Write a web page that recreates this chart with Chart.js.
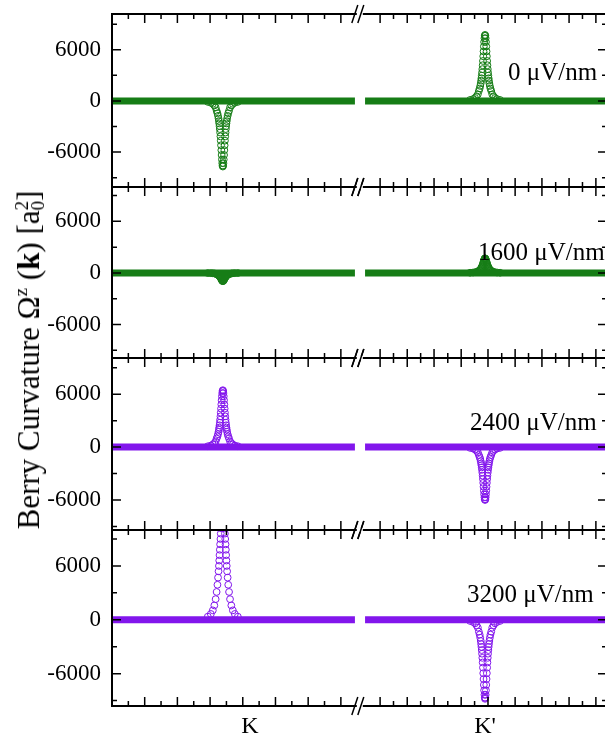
<!DOCTYPE html>
<html>
<head>
<meta charset="utf-8">
<script src="https://cdn.jsdelivr.net/npm/chart.js@4.4.1/dist/chart.umd.min.js"></script>
<style>
  html, body { margin: 0; padding: 0; background: #fff; overflow: hidden; }
  #wrap { position: relative; width: 605px; height: 745px; overflow: hidden; }
  canvas { position: absolute; left: 0; }
  #ytitle {
    position: absolute; left: 29px; top: 360px;
    transform: translate(-50%, -50%) rotate(-90deg);
    font-family: 'Liberation Serif', serif; font-size: 31px; white-space: nowrap; color: #000;
  }
  #ytitle sup { font-size: 19px; vertical-align: 12px; line-height: 0; }
  .stk { display: inline-block; vertical-align: -5px; line-height: 16px; font-size: 19px; text-align: left; }
  .stk span { display: block; }
</style>
</head>
<body>
<div id="wrap">
  <canvas id="c1"></canvas>
  <canvas id="c2"></canvas>
  <canvas id="c3"></canvas>
  <canvas id="c4"></canvas>
  <div id="ytitle">Berry Curvature &Omega;<sup>z</sup> (<b>k</b>) [a<span class="stk"><span>2</span><span>0</span></span>]</div>
</div>
<script>
// x axis: path coordinate, broken between the two valleys
const xMin = 0, xMax = 15.14;
const xBreak = 7.61;
const leftSegment = [0, 7.43];
const rightSegment = [7.74, 15.14];
const xMajorTicks = [0, 1, 2, 3, 4, 5, 6, 7, 8.2, 9.03, 9.85, 10.68, 11.5, 12.33, 13.15, 13.98, 14.8];
const xMinorTicks = [0.5, 1.5, 2.5, 3.5, 4.5, 5.5, 6.5, 8.61, 9.44, 10.27, 11.09, 11.92, 12.74, 13.57, 14.39];
const xLabels = ['K', "K'"];
const xLabelPos = [4.22, 11.41];
const kCenter = 3.39;
const kPrimeCenter = 11.41;

const yMajorTicks = [-6000, 0, 6000];
const yMinorTicks = [-9000, -3000, 3000, 9000];

const fieldLabels = ['0 \u03bcV/nm', '1600 \u03bcV/nm', '2400 \u03bcV/nm', '3200 \u03bcV/nm'];

// sampled k offsets around each valley (dense near the centre)
const peakOffsets = [-0.459,-0.367,-0.306,-0.26,-0.22,-0.19,-0.165,-0.147,-0.131,-0.119,-0.11,-0.101,-0.092,-0.083,-0.073,-0.064,-0.055,-0.046,-0.037,-0.028,-0.018,-0.009,0,
  0.009,0.018,0.028,0.037,0.046,0.055,0.064,0.073,0.083,0.092,0.101,0.11,0.119,0.131,0.147,0.165,0.19,0.22,0.26,0.306,0.367,0.459];

// Berry curvature near K and K' for each field
const e0K = [-115,-215,-345,-540,-770,-1155,-1450,-1750,-2065,-2370,-2640,-2950,-3300,-3705,-4160,-4660,-5205,-5775,-6345,-6875,-7305,-7600,-7700,
  -7600,-7305,-6875,-6345,-5775,-5205,-4660,-4160,-3705,-3300,-2950,-2640,-2370,-2065,-1750,-1450,-1155,-770,-540,-345,-215,-115];
const e0Kp = [115,215,350,545,775,1165,1455,1760,2075,2385,2660,2970,3325,3730,4185,4690,5240,5810,6385,6920,7355,7650,7750,
  7650,7355,6920,6385,5810,5240,4690,4185,3730,3325,2970,2660,2385,2075,1760,1455,1165,775,545,350,215,115];
const e1600K = [-15,-25,-45,-65,-95,-145,-180,-215,-255,-295,-325,-365,-410,-455,-515,-575,-640,-715,-785,-850,-900,-940,-950,
  -940,-900,-850,-785,-715,-640,-575,-515,-455,-410,-365,-325,-295,-255,-215,-180,-145,-95,-65,-45,-25,-15];
const e1600Kp = [25,50,75,120,170,255,320,385,455,525,585,650,730,820,920,1030,1150,1275,1400,1520,1615,1680,1700,
  1680,1615,1520,1400,1275,1150,1030,920,820,730,650,585,525,455,385,320,255,170,120,75,50,25];
const e2400K = [95,180,290,450,645,970,1215,1465,1730,1985,2210,2470,2765,3100,3485,3900,4360,4840,5315,5760,6120,6365,6450,
  6365,6120,5760,5315,4840,4360,3900,3485,3100,2765,2470,2210,1985,1730,1465,1215,970,645,450,290,180,95];
const e2400Kp = [-90,-170,-270,-420,-600,-900,-1130,-1360,-1610,-1850,-2060,-2300,-2575,-2885,-3240,-3630,-4055,-4500,-4945,-5360,-5695,-5920,-6000,
  -5920,-5695,-5360,-4945,-4500,-4055,-3630,-3240,-2885,-2575,-2300,-2060,-1850,-1610,-1360,-1130,-900,-600,-420,-270,-170,-90];
// K peak at 3200 uV/nm runs off the top of its panel
const e3200K = [350,650,1050,1600,2300,3100,3900,4700,5400,6000,6600,7200,7800,8400,9000,9600,10200,10800,11400,11900,12300,12500,12600,
  12500,12300,11900,11400,10800,10200,9600,9000,8400,7800,7200,6600,6000,5400,4700,3900,3100,2300,1600,1050,650,350];
const e3200Kp = [-130,-245,-395,-615,-880,-1320,-1655,-2000,-2360,-2710,-3020,-3370,-3775,-4235,-4750,-5325,-5950,-6600,-7250,-7860,-8350,-8685,-8800,
  -8685,-8350,-7860,-7250,-6600,-5950,-5325,-4750,-4235,-3775,-3370,-3020,-2710,-2360,-2000,-1655,-1320,-880,-615,-395,-245,-130];

const GREEN = 'rgb(22,125,22)';
const PURPLE = 'rgb(130,22,236)';
const SERIF = "'Liberation Serif', serif";

const panels = [
  { id: 'c1', top: 14,  bottom: 187, ymin: -10100, ymax: 10200, K: e0K,    Kp: e0Kp,    color: GREEN,  label: 0, lx: 508, ly: 59 },
  { id: 'c2', top: 187, bottom: 358, ymin: -9900,  ymax: 10000, K: e1600K, Kp: e1600Kp, color: GREEN,  label: 1, lx: 478, ly: 66 },
  { id: 'c3', top: 358, bottom: 530, ymin: -9400,  ymax: 10100, K: e2400K, Kp: e2400Kp, color: PURPLE, label: 2, lx: 470, ly: 65 },
  { id: 'c4', top: 530, bottom: 706, ymin: -9600,  ymax: 10000, K: e3200K, Kp: e3200Kp, color: PURPLE, label: 3, lx: 467, ly: 65 }
];

const CANVAS_W = 620, RIGHT = 607, LEFT = 112, PAD = 10, XAXIS_H = 39;

function frame(p) {
  return {
    id: 'frame',
    afterDatasetsDraw(chart) {
      const { ctx, chartArea: a, scales: { x, y } } = chart;
      ctx.save();
      ctx.strokeStyle = '#000';
      ctx.lineWidth = 1.5;
      ctx.beginPath();
      const seg = (x0, y0, x1, y1) => { ctx.moveTo(x0, y0); ctx.lineTo(x1, y1); };
      xMajorTicks.forEach(v => { const px = x.getPixelForValue(v); seg(px, a.top, px, a.top + 9); seg(px, a.bottom, px, a.bottom - 9); });
      xMinorTicks.forEach(v => { const px = x.getPixelForValue(v); seg(px, a.top, px, a.top + 5); seg(px, a.bottom, px, a.bottom - 5); });
      yMajorTicks.forEach(v => { const py = y.getPixelForValue(v); seg(a.left, py, a.left + 9, py); seg(a.right, py, a.right - 9, py); });
      yMinorTicks.forEach(v => { const py = y.getPixelForValue(v); seg(a.left, py, a.left + 5, py); seg(a.right, py, a.right - 5, py); });
      ctx.stroke();
      ctx.lineWidth = 2;
      ctx.strokeRect(a.left, a.top, a.right - a.left, a.bottom - a.top);
      // axis break marks
      const bx = x.getPixelForValue(xBreak);
      [a.top, a.bottom].forEach(by => {
        ctx.fillStyle = '#fff';
        ctx.fillRect(bx - 4, by - 2, 6, 4);
        ctx.lineWidth = 1.5;
        ctx.beginPath();
        seg(bx - 9, by + 9, bx - 3, by - 9);
        seg(bx - 3, by + 9, bx + 3, by - 9);
        ctx.stroke();
      });
      // field label
      ctx.fillStyle = '#000';
      ctx.font = '25px ' + SERIF;
      ctx.textBaseline = 'middle';
      ctx.textAlign = 'left';
      ctx.fillText(fieldLabels[p.label], p.lx, a.top + p.ly);
      ctx.restore();
    }
  };
}

const noPad = s => { s.paddingTop = 0; s.paddingBottom = 0; s.paddingLeft = 0; s.paddingRight = 0; };

panels.forEach((p, i) => {
  const last = i === panels.length - 1;
  const cv = document.getElementById(p.id);
  const h = (p.bottom - p.top) + PAD + (last ? XAXIS_H : PAD);
  cv.width = CANVAS_W; cv.height = h;
  cv.style.top = (p.top - PAD) + 'px';

  const peakPts = (center, vals) => peakOffsets.map((d, j) => ({ x: center + d, y: vals[j] }));
  const base = seg => [{ x: seg[0], y: 0 }, { x: seg[1], y: 0 }];
  const lineDs = data => ({ data, showLine: true, borderColor: p.color, borderWidth: 7, borderCapStyle: 'butt', pointRadius: 0, clip: 0, order: 2 });
  const pointDs = data => ({ data, showLine: false, pointStyle: 'circle', pointRadius: 3.4, pointBorderWidth: 1,
    pointBorderColor: p.color, pointBackgroundColor: 'rgba(0,0,0,0)', clip: 0, order: 1 });

  new Chart(cv, {
    type: 'scatter',
    data: {
      datasets: [
        lineDs(base(leftSegment)),
        lineDs(base(rightSegment)),
        pointDs(peakPts(kCenter, p.K)),
        pointDs(peakPts(kPrimeCenter, p.Kp))
      ]
    },
    options: {
      responsive: false,
      animation: false,
      devicePixelRatio: 1,
      layout: { padding: { top: PAD, bottom: last ? 0 : PAD, left: 0, right: CANVAS_W - RIGHT } },
      plugins: { legend: { display: false }, tooltip: { enabled: false } },
      scales: {
        x: {
          type: 'linear', min: xMin, max: xMax,
          display: last,
          grid: { display: false, drawTicks: false },
          border: { display: false },
          afterBuildTicks: s => { s.ticks = xLabelPos.map(v => ({ value: v })); },
          afterFit: s => { s.height = last ? XAXIS_H : 0; noPad(s); },
          ticks: {
            autoSkip: false, maxRotation: 0, padding: 6, color: '#000',
            font: { family: SERIF, size: 24 },
            callback: (v, idx) => xLabels[idx]
          }
        },
        y: {
          type: 'linear', min: p.ymin, max: p.ymax,
          grid: { display: false, drawTicks: false },
          border: { display: false },
          afterBuildTicks: s => { s.ticks = yMajorTicks.map(v => ({ value: v })); },
          afterFit: s => { s.width = LEFT; noPad(s); },
          ticks: { padding: 11, color: '#000', font: { family: SERIF, size: 23 }, callback: v => String(v) }
        }
      }
    },
    plugins: [frame(p)]
  });
});
</script>
</body>
</html>
